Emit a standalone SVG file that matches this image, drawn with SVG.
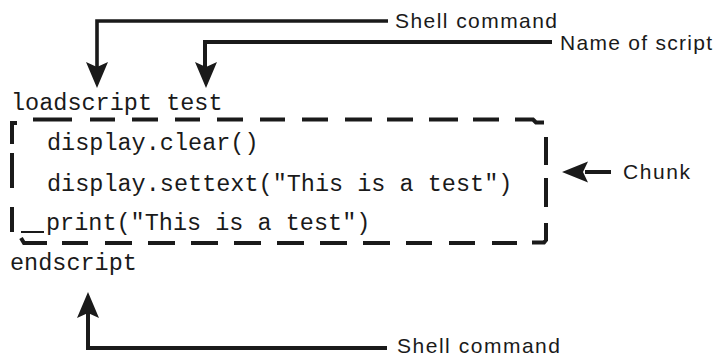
<svg xmlns="http://www.w3.org/2000/svg" xmlns:xlink="http://www.w3.org/1999/xlink" width="715" height="356" viewBox="0 0 715 356">
<style>
.mono{font-family:"Liberation Mono","Courier New",monospace;font-size:23.5px;fill:#1a1a1a}
.lbl{font-family:"Liberation Sans",Arial,sans-serif;font-size:21px;fill:#1a1a1a}
.ln{fill:none;stroke:#1a1a1a;stroke-width:4;stroke-linejoin:miter}
.box{fill:none;stroke:#1a1a1a;stroke-width:4}
.head{fill:#1a1a1a}
</style>
<defs>
<path id="ah" d="M0,0 L-11,-26 L0,-21 L11,-26 Z"/>
</defs>
<rect width="715" height="356" fill="#ffffff"/>

<g id="chunk-box">
<path class="box" d="M33,119.5H72M90,119.5H115M132,119.5H158M175,119.5H200M217,119.5H243M260,119.5H285M302,119.5H328M345,119.5H372M387,119.5H413M429,119.5H458M473,119.5H499M515,119.5H533L536,122.5H544"/>
<path class="box" d="M17,123H12V144M12,153V188M12,207V232"/>
<path class="box" d="M21,238L24,243H47M62,243H88M105,243H132M148,243H175M191,243H218M234,243H261M277,243H304M320,243H347M363,243H390M406,243H432M449,243H475M492,243H517M532,242.5H544L546,240V223"/>
<path class="box" d="M546,137V165M546,178V207"/>
<path class="box" style="stroke-width:2" d="M21,232H44"/>
</g>

<g id="code">
<text class="mono" x="11" y="110">loadscript test</text>
<text class="mono" x="47" y="150">display.clear()</text>
<text class="mono" x="47" y="191">display.settext("This is a test")</text>
<text class="mono" x="46" y="230">print("This is a test")</text>
<text class="mono" x="10" y="270">endscript</text>
</g>

<g id="label-shell-top">
<text class="lbl" x="395" y="28" textLength="162" lengthAdjust="spacing">Shell command</text>
</g>
<g id="label-name">
<text class="lbl" x="560" y="50" textLength="152" lengthAdjust="spacing">Name of script</text>
</g>
<g id="label-chunk">
<text class="lbl" x="623" y="179" textLength="67" lengthAdjust="spacing">Chunk</text>
</g>
<g id="label-shell-bottom">
<text class="lbl" x="397" y="353" textLength="163" lengthAdjust="spacing">Shell command</text>
</g>

<g id="connectors">
<path class="ln" style="stroke-width:3.6" d="M97,70V21H388"/>
<use class="head" xlink:href="#ah" href="#ah" transform="translate(97,88)"/>
<path class="ln" d="M205,70V42H552"/>
<use class="head" xlink:href="#ah" href="#ah" transform="translate(206,88)"/>
<path class="ln" d="M585,172H611"/>
<use class="head" xlink:href="#ah" href="#ah" transform="translate(562,172) rotate(90) scale(0.95,1)"/>
<path class="ln" d="M88,310V348H387"/>
<use class="head" xlink:href="#ah" href="#ah" transform="translate(88,292) rotate(180)"/>
</g>
</svg>
